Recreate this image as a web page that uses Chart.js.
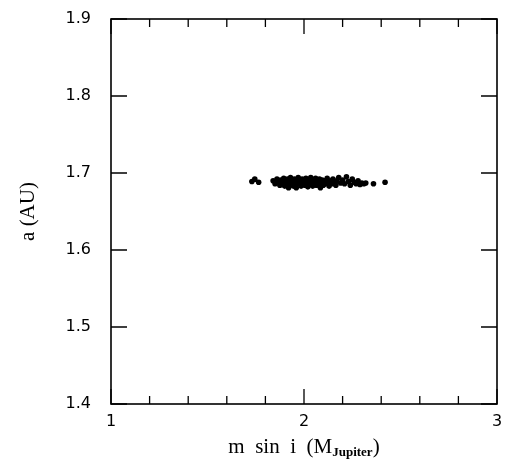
<!DOCTYPE html>
<html>
<head>
<meta charset="utf-8">
<script src="https://cdn.jsdelivr.net/npm/chart.js@4.4.1/dist/chart.umd.min.js"></script>
<style>
  html, body { margin: 0; padding: 0; background: #fff; }
  #wrap { width: 507px; height: 470px; }
</style>
</head>
<body>
<div id="wrap"><canvas id="chart"></canvas></div>
<script>
// data: planet mass (m sin i) vs semi-major axis
const massValues = [
  1.73, 1.745, 1.765,
  1.84, 1.85, 1.86, 1.87, 1.875, 1.88, 1.89, 1.895, 1.90, 1.905, 1.91, 1.915, 1.92, 1.925, 1.93, 1.935,
  1.94, 1.945, 1.95, 1.955, 1.96, 1.965, 1.97, 1.975, 1.98, 1.985, 1.99, 1.995, 2.00, 2.005, 2.01, 2.015,
  2.02, 2.025, 2.03, 2.035, 2.04, 2.045, 2.05, 2.055, 2.06, 2.065, 2.07, 2.075, 2.08, 2.085, 2.09, 2.095,
  2.10, 2.105, 2.11, 2.12, 2.125, 2.13, 2.14, 2.145, 2.15, 2.16, 2.165, 2.17, 2.18, 2.19, 2.20, 2.21,
  2.22, 2.23, 2.24, 2.25, 2.26, 2.27, 2.28, 2.29, 2.30, 2.31, 2.32,
  2.36, 2.42
];
const axisValues = [
  1.689, 1.692, 1.688,
  1.690, 1.686, 1.692, 1.688, 1.684, 1.691, 1.687, 1.693, 1.683, 1.689, 1.686, 1.692, 1.681, 1.688, 1.694, 1.685,
  1.690, 1.683, 1.692, 1.687, 1.681, 1.690, 1.694, 1.686, 1.689, 1.683, 1.692, 1.687, 1.690, 1.684, 1.693, 1.688,
  1.682, 1.691, 1.686, 1.694, 1.689, 1.683, 1.691, 1.687, 1.693, 1.684, 1.689, 1.686, 1.692, 1.681, 1.688, 1.691,
  1.684, 1.690, 1.686, 1.693, 1.688, 1.683, 1.690, 1.686, 1.692, 1.688, 1.684, 1.690, 1.694, 1.687, 1.691, 1.686,
  1.695, 1.689, 1.684, 1.692, 1.688, 1.686, 1.690, 1.685, 1.687, 1.686, 1.687,
  1.686, 1.688
];
const xLabels = [1, 2, 3];
const yLabels = [1.4, 1.5, 1.6, 1.7, 1.8, 1.9];

const points = massValues.map((m, i) => ({ x: m, y: axisValues[i] }));

// frame, inward ticks on all four sides, and axis titles
const framePlugin = {
  id: 'frame',
  afterDraw(chart) {
    const ctx = chart.ctx;
    const a = chart.chartArea;
    const xs = chart.scales.x;
    const ys = chart.scales.y;
    ctx.save();
    ctx.strokeStyle = '#000';
    ctx.lineWidth = 1.6;
    ctx.strokeRect(a.left, a.top, a.right - a.left, a.bottom - a.top);

    ctx.lineWidth = 1.3;
    ctx.beginPath();
    xs.ticks.forEach(t => {
      const px = xs.getPixelForValue(t.value);
      const len = xLabels.includes(Math.round(t.value * 100) / 100) ? 15 : 8;
      ctx.moveTo(px, a.bottom); ctx.lineTo(px, a.bottom - len);
      ctx.moveTo(px, a.top); ctx.lineTo(px, a.top + len);
    });
    ys.ticks.forEach(t => {
      const py = ys.getPixelForValue(t.value);
      ctx.moveTo(a.left, py); ctx.lineTo(a.left + 16, py);
      ctx.moveTo(a.right, py); ctx.lineTo(a.right - 16, py);
    });
    ctx.stroke();

    // x title with subscript
    ctx.fillStyle = '#000';
    ctx.textBaseline = 'alphabetic';
    const main = 'm  sin  i  (M';
    const sub = 'Jupiter';
    const mainFont = '21px "Liberation Serif"';
    const subFont = 'bold 13px "Liberation Serif"';
    ctx.font = mainFont;
    const w1 = ctx.measureText(main).width;
    const w3 = ctx.measureText(')').width;
    ctx.font = subFont;
    const w2 = ctx.measureText(sub).width;
    const cx = (a.left + a.right) / 2;
    let x0 = cx - (w1 + w2 + w3) / 2;
    const base = 453;
    ctx.textAlign = 'left';
    ctx.font = mainFont;
    ctx.fillText(main, x0, base);
    ctx.font = subFont;
    ctx.fillText(sub, x0 + w1, base + 3);
    ctx.font = mainFont;
    ctx.fillText(')', x0 + w1 + w2, base);

    // y title
    ctx.translate(34, (a.top + a.bottom) / 2);
    ctx.rotate(-Math.PI / 2);
    ctx.textAlign = 'center';
    ctx.fillText('a (AU)', 0, 0);
    ctx.restore();
  }
};

new Chart(document.getElementById('chart'), {
  type: 'scatter',
  data: {
    datasets: [{
      data: points,
      backgroundColor: '#000',
      borderWidth: 0,
      pointRadius: 2.8,
      pointHoverRadius: 2.8
    }]
  },
  options: {
    responsive: true,
    maintainAspectRatio: false,
    animation: false,
    events: [],
    layout: { padding: { top: 19, right: 10, left: 0, bottom: 0 } },
    plugins: { legend: { display: false }, tooltip: { enabled: false } },
    scales: {
      x: {
        type: 'linear',
        min: 1, max: 3,
        afterFit(scale) { scale.height = 66; },
        // transparent tick marks only push the labels down; the visible ticks are drawn by the plugin
        grid: { display: true, drawOnChartArea: false, drawTicks: true, tickLength: 8, color: 'rgba(0,0,0,0)' },
        border: { display: false },
        ticks: {
          stepSize: 0.2,
          padding: 0,
          color: '#000',
          font: { family: 'DejaVu Sans', size: 16 },
          autoSkip: false,
          maxRotation: 0,
          callback: v => xLabels.includes(Math.round(v * 100) / 100) ? String(Math.round(v)) : ''
        }
      },
      y: {
        type: 'linear',
        min: 1.4, max: 1.9,
        afterFit(scale) { scale.width = 111; },
        grid: { display: true, drawOnChartArea: false, drawTicks: true, tickLength: 17, color: 'rgba(0,0,0,0)' },
        border: { display: false },
        ticks: {
          stepSize: 0.1,
          padding: 3,
          color: '#000',
          font: { family: 'DejaVu Sans', size: 16 },
          autoSkip: false,
          callback: v => {
            const r = Math.round(v * 10) / 10;
            return yLabels.includes(r) ? r.toFixed(1) : '';
          }
        }
      }
    }
  },
  plugins: [framePlugin]
});
</script>
</body>
</html>
